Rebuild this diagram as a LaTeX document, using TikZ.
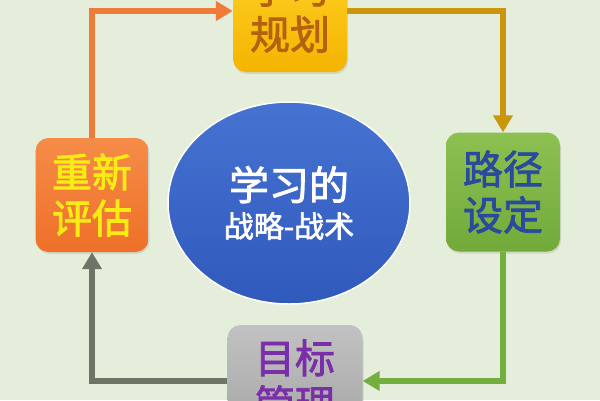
\documentclass[tikz,border=0pt]{standalone}
\usepackage{fontspec}
\newfontfamily\cjk[FakeBold=2]{Noto Sans CJK SC}
\usetikzlibrary{arrows.meta,shapes.geometric,shadows}
\definecolor{bgc}{HTML}{E5EDDB}
\definecolor{arrOrange}{HTML}{EE7B3A}
\definecolor{arrGold}{HTML}{C9960C}
\definecolor{arrGreen}{HTML}{74AE3F}
\definecolor{arrGray}{HTML}{6F7468}
\definecolor{planTop}{HTML}{FFD42A}
\definecolor{planBot}{HTML}{F5B400}
\definecolor{planText}{HTML}{B5620E}
\definecolor{evalTop}{HTML}{F58C48}
\definecolor{evalBot}{HTML}{EE7028}
\definecolor{evalText}{HTML}{F8EC14}
\definecolor{pathTop}{HTML}{8CC152}
\definecolor{pathBot}{HTML}{72AA3A}
\definecolor{pathText}{HTML}{2A4B9B}
\definecolor{goalTop}{HTML}{C2C2C2}
\definecolor{goalBot}{HTML}{A4A4A4}
\definecolor{goalText}{HTML}{7A2FA8}
\definecolor{coreTop}{HTML}{4673D2}
\definecolor{coreBot}{HTML}{3059BC}
\begin{document}
\begin{tikzpicture}[x=1pt,y=-1pt,
  box/.style={rounded corners=13pt, inner sep=0pt, align=center,
    font=\cjk\fontsize{40}{46}\selectfont,
    drop shadow={opacity=0.2, shadow xshift=1pt, shadow yshift=-2pt}},
  arr/.style={line width=6pt, -{Triangle[length=17pt,width=19pt]}}]
\fill[bgc] (0,0) rectangle (600,400);
\useasboundingbox (0,0) rectangle (600,400);
\clip (0,0) rectangle (600,400);

\node[box, minimum width=114pt, minimum height=122pt,
  top color=planTop, bottom color=planBot, text=planText] (plan) at (290,11) {学习\\规划};
\node[box, minimum width=113pt, minimum height=114pt,
  top color=evalTop, bottom color=evalBot, text=evalText] (eval) at (92,195) {重新\\评估};
\node[box, minimum width=114pt, minimum height=119pt,
  top color=pathTop, bottom color=pathBot, text=pathText] (path) at (503,192) {路径\\设定};
\node[box, minimum width=135pt, minimum height=112pt,
  top color=goalTop, bottom color=goalBot, text=goalText] (goal) at (295,381) {目标\\管理};

\node[ellipse, minimum width=242pt, minimum height=202pt, inner sep=0pt,
  top color=coreTop, bottom color=coreBot, draw=white, line width=1.5pt,
  text=white, align=center] (core) at (289,203)
  {{\cjk\fontsize{40}{44}\selectfont 学习的}\\[8pt]{\cjk\fontsize{30}{34}\selectfont 战略-战术}};

\draw[arr, arrOrange] (eval.north) |- (plan.west);
\draw[arr, arrGold] (plan.east) -| (path.north);
\draw[arr, arrGreen] (path.south) |- (goal.east);
\draw[arr, arrGray] (goal.west) -| (eval.south);
\end{tikzpicture}
\end{document}
